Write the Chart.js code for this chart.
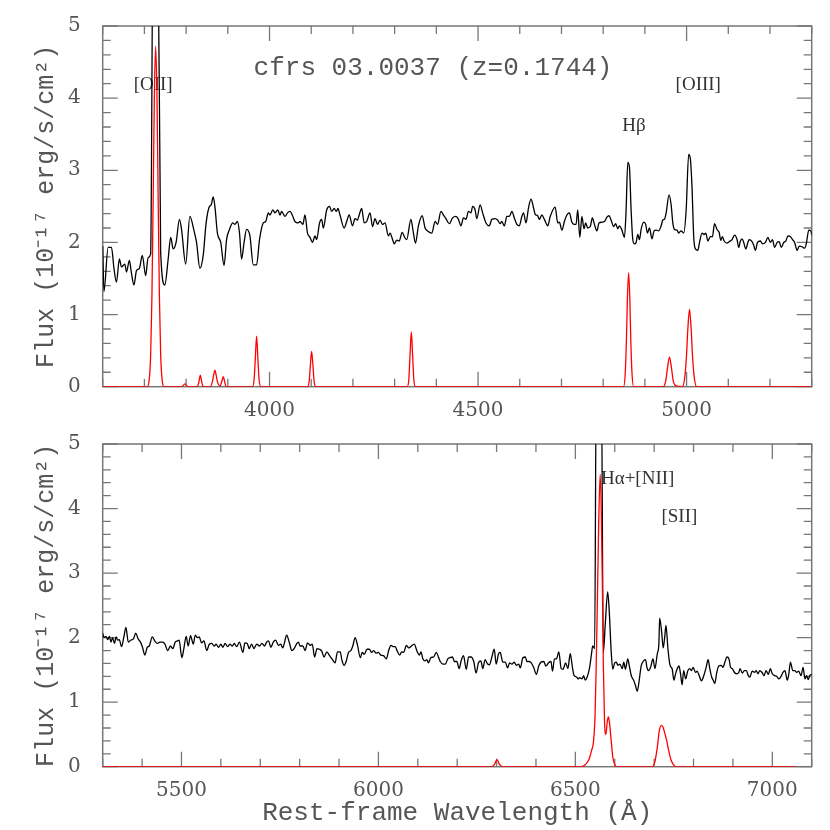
<!DOCTYPE html>
<html>
<head>
<meta charset="utf-8">
<script src="https://cdn.jsdelivr.net/npm/chart.js@4.4.1/dist/chart.umd.min.js"></script>
<style>
    body { margin: 0; background: #fff; }
    #top, #bottom { position: absolute; left: 0; }
    #top { top: 0; }
    #bottom { top: 418px; }
</style>
</head>
<body>
<canvas id="top" width="830" height="426"></canvas>
<canvas id="bottom" width="830" height="412"></canvas>
<script>
"use strict";

// observed spectrum, blue part [wavelength A, flux]
const topSpectrum = [
    [3600,1.95],[3603,1.32],[3613,1.93],[3621,1.93],[3627,1.64],[3633,1.45],[3640,1.77],[3645,1.66],
    [3653,1.70],[3657,1.59],[3664,1.75],[3669,1.57],[3675,1.41],[3681,1.61],[3688,1.64],[3695,1.82],
    [3703,1.54],[3709,1.79],[3715,1.84],[3721,6.5],[3732,6.5],[3739,1.86],[3749,1.41],[3757,1.77],
    [3763,2.07],[3769,1.91],[3776,2.00],[3784,2.32],[3789,2.18],[3799,1.70],[3809,2.36],[3819,2.16],
    [3825,2.00],[3833,1.64],[3841,1.82],[3848,2.27],[3856,2.50],[3860,2.52],[3865,2.63],[3869,2.50],
    [3875,2.13],[3883,2.00],[3891,1.68],[3897,2.04],[3904,2.18],[3912,2.27],[3917,2.25],[3923,2.29],
    [3928,2.13],[3933,1.77],[3939,2.00],[3945,2.18],[3953,2.09],[3961,1.69],[3969,1.69],[3976,2.04],
    [3985,2.27],[3991,2.29],[3997,2.41],[4001,2.38],[4008,2.45],[4013,2.41],[4020,2.45],[4025,2.38],
    [4029,2.43],[4037,2.36],[4043,2.41],[4049,2.43],[4056,2.36],[4061,2.29],[4069,2.27],[4073,2.29],
    [4080,2.25],[4085,2.38],[4091,2.13],[4097,2.07],[4103,2.00],[4109,2.09],[4113,2.04],[4120,2.27],
    [4125,2.32],[4129,2.20],[4137,2.45],[4144,2.50],[4149,2.43],[4155,2.47],[4160,2.43],[4164,2.47],
    [4169,2.38],[4179,2.20],[4185,2.29],[4191,2.38],[4199,2.23],[4205,2.33],[4211,2.31],[4215,2.38],
    [4221,2.47],[4227,2.27],[4233,2.29],[4241,2.41],[4247,2.22],[4253,2.33],[4259,2.25],[4265,2.31],
    [4271,2.25],[4277,2.27],[4285,2.09],[4289,2.13],[4295,2.04],[4299,1.98],[4305,2.03],[4311,2.02],
    [4318,2.14],[4324,2.07],[4329,2.04],[4339,2.32],[4345,2.13],[4350,1.99],[4357,2.23],[4366,2.37],
    [4373,2.20],[4379,2.16],[4389,2.13],[4397,2.29],[4403,2.25],[4411,2.43],[4417,2.38],[4423,2.33],
    [4431,2.26],[4439,2.34],[4447,2.36],[4453,2.32],[4459,2.23],[4465,2.34],[4471,2.32],[4477,2.43],
    [4483,2.41],[4487,2.50],[4493,2.45],[4497,2.33],[4505,2.52],[4511,2.41],[4519,2.27],[4527,2.23],
    [4533,2.32],[4541,2.33],[4547,2.31],[4553,2.26],[4557,2.29],[4563,2.23],[4569,2.36],[4575,2.36],
    [4581,2.43],[4587,2.34],[4593,2.25],[4599,2.23],[4605,2.36],[4609,2.41],[4615,2.27],[4621,2.48],
    [4627,2.60],[4633,2.48],[4637,2.39],[4643,2.37],[4647,2.32],[4653,2.38],[4659,2.32],[4667,2.23],
    [4673,2.36],[4685,2.49],[4691,2.27],[4695,2.28],[4701,2.17],[4707,2.29],[4713,2.38],[4719,2.41],
    [4725,2.28],[4731,2.25],[4735,2.25],[4739,2.45],[4744,2.07],[4749,2.36],[4754,2.19],[4758,2.27],
    [4763,2.20],[4769,2.22],[4774,2.34],[4779,2.25],[4785,2.16],[4790,2.27],[4797,2.28],[4803,2.29],
    [4809,2.35],[4814,2.37],[4819,2.31],[4825,2.22],[4830,2.26],[4835,2.19],[4839,2.23],[4845,2.17],
    [4851,2.07],[4855,2.45],[4859,3.11],[4863,3.04],[4867,2.45],[4871,2.04],[4875,1.98],[4879,2.00],
    [4883,2.11],[4887,2.04],[4891,2.18],[4897,2.28],[4902,2.25],[4906,2.13],[4911,2.20],[4917,2.05],
    [4922,2.16],[4927,2.17],[4933,2.16],[4939,2.23],[4943,2.31],[4947,2.32],[4951,2.41],[4958,2.66],
    [4963,2.52],[4967,2.27],[4971,2.18],[4977,2.17],[4981,2.13],[4987,2.16],[4993,2.13],[4999,2.45],
    [5005,3.22],[5009,3.16],[5013,2.77],[5017,2.09],[5021,1.91],[5027,1.89],[5031,2.00],[5037,2.13],
    [5042,2.11],[5046,2.13],[5051,2.02],[5057,2.08],[5062,2.08],[5067,2.26],[5073,2.18],[5078,2.14],
    [5082,2.03],[5086,2.08],[5090,2.02],[5097,1.99],[5102,2.01],[5109,2.04],[5115,2.10],[5121,2.04],
    [5125,1.93],[5129,2.02],[5133,2.05],[5137,2.00],[5142,1.91],[5147,2.00],[5150,2.04],[5157,2.01],
    [5161,1.96],[5165,1.89],[5170,2.00],[5177,2.02],[5182,1.98],[5189,2.00],[5195,2.07],[5201,2.00],
    [5206,2.04],[5211,1.93],[5217,2.00],[5222,2.01],[5227,1.93],[5233,2.00],[5238,2.02],[5243,2.09],
    [5249,2.08],[5254,2.04],[5259,2.00],[5265,1.89],[5270,1.95],[5277,1.94],[5283,1.92],[5287,1.98],
    [5293,2.17],[5298,2.16],[5300,2.10]
];

// fitted emission lines, blue part
const topModel = [
    [3600,0],[3707,0],[3711,0.07],[3715,0.44],[3718,1.24],[3721,2.6],[3724,4.07],[3727,4.72],
    [3730,4.07],[3733,2.6],[3736,1.24],[3739,0.44],[3743,0.07],[3747,0],
    [3790,0],[3797,0.04],[3804,0],
    [3826,0],[3830,0.05],[3832,0.11],[3834,0.16],[3836,0.11],[3838,0.05],[3842,0],
    [3858,0],[3863,0.07],[3866,0.16],[3869,0.23],[3872,0.16],[3875,0.07],[3881,0.01],
    [3886,0.08],[3889,0.14],[3892,0.08],[3896,0],
    [3959,0],[3963,0.1],[3966,0.4],[3969,0.70],[3972,0.4],[3975,0.1],[3979,0],
    [4091,0],[4095,0.07],[4098,0.3],[4101,0.49],[4104,0.3],[4107,0.07],[4111,0],
    [4330,0],[4334,0.1],[4337,0.45],[4340,0.76],[4343,0.45],[4346,0.1],[4350,0],
    [4849,0],[4853,0.2],[4856,0.7],[4858,1.2],[4861,1.58],[4864,1.2],[4866,0.7],[4869,0.2],[4873,0],
    [4944,0],[4950,0.08],[4954,0.25],[4959,0.41],[4964,0.25],[4968,0.08],[4975,0.01],
    [4990,0],[4996,0.15],[5000,0.45],[5003,0.8],[5007,1.07],[5011,0.8],[5014,0.45],[5018,0.15],[5024,0],
    [5300,0]
];

// observed spectrum, red part
const bottomSpectrum = [
    [5300,2.07],[5303,2.00],[5308,2.02],[5313,1.97],[5317,2.02],[5321,1.93],[5325,2.00],[5330,1.91],
    [5334,2.01],[5338,1.96],[5342,1.97],[5348,1.86],[5354,2.02],[5359,2.16],[5365,1.93],[5371,1.96],
    [5378,1.98],[5384,2.07],[5390,1.98],[5396,1.93],[5401,1.85],[5407,1.73],[5413,1.85],[5418,1.87],
    [5426,2.01],[5432,1.95],[5439,1.91],[5445,1.93],[5452,1.93],[5458,1.90],[5465,1.80],[5472,1.87],
    [5478,1.83],[5484,1.93],[5490,1.95],[5494,1.96],[5501,1.69],[5506,1.83],[5512,2.02],[5517,1.87],
    [5523,2.03],[5530,1.90],[5535,2.04],[5540,2.00],[5545,2.01],[5551,1.92],[5557,1.95],[5564,1.80],
    [5571,1.90],[5577,1.91],[5583,1.87],[5588,1.90],[5594,1.85],[5600,1.90],[5605,1.85],[5611,1.91],
    [5617,1.86],[5623,1.90],[5629,1.87],[5634,1.91],[5640,1.86],[5647,1.93],[5656,1.77],[5661,1.92],
    [5667,1.91],[5672,1.83],[5678,1.90],[5684,1.83],[5691,1.90],[5698,1.87],[5704,1.91],[5711,1.87],
    [5716,1.93],[5721,1.95],[5727,1.85],[5733,1.93],[5739,1.96],[5746,1.88],[5752,1.90],[5757,1.84],
    [5761,1.91],[5767,2.04],[5774,1.92],[5780,1.80],[5786,1.83],[5793,1.91],[5797,1.93],[5801,1.87],
    [5808,1.87],[5814,1.80],[5820,1.92],[5827,1.88],[5832,1.90],[5838,1.70],[5844,1.83],[5850,1.82],
    [5856,1.79],[5862,1.70],[5869,1.78],[5876,1.72],[5882,1.67],[5890,1.61],[5896,1.78],[5903,1.78],
    [5907,1.66],[5913,1.57],[5918,1.63],[5924,1.77],[5930,1.80],[5935,1.87],[5941,2.00],[5947,1.88],
    [5954,1.69],[5959,1.77],[5964,1.74],[5971,1.82],[5977,1.82],[5983,1.77],[5988,1.80],[5994,1.76],
    [6000,1.77],[6006,1.73],[6013,1.72],[6020,1.67],[6026,1.80],[6032,1.88],[6037,1.86],[6043,1.86],
    [6047,1.80],[6054,1.73],[6059,1.78],[6064,1.77],[6071,1.88],[6077,1.84],[6082,1.86],[6091,1.90],
    [6098,1.79],[6104,1.73],[6108,1.78],[6113,1.67],[6119,1.64],[6123,1.66],[6127,1.61],[6133,1.69],
    [6140,1.70],[6147,1.77],[6153,1.69],[6157,1.63],[6164,1.59],[6170,1.59],[6176,1.67],[6182,1.69],
    [6188,1.70],[6193,1.63],[6199,1.63],[6205,1.52],[6210,1.64],[6216,1.72],[6223,1.51],[6229,1.70],
    [6235,1.70],[6242,1.63],[6248,1.45],[6254,1.61],[6260,1.64],[6265,1.52],[6271,1.66],[6277,1.59],
    [6282,1.58],[6288,1.70],[6294,1.82],[6299,1.59],[6305,1.75],[6309,1.77],[6316,1.62],[6322,1.62],
    [6328,1.53],[6333,1.61],[6339,1.59],[6345,1.62],[6350,1.57],[6356,1.59],[6360,1.53],[6367,1.69],
    [6373,1.70],[6377,1.63],[6383,1.63],[6388,1.61],[6394,1.54],[6401,1.43],[6407,1.56],[6413,1.62],
    [6420,1.63],[6425,1.56],[6432,1.61],[6438,1.63],[6442,1.48],[6447,1.67],[6452,1.67],[6458,1.78],
    [6464,1.52],[6469,1.51],[6475,1.61],[6481,1.52],[6487,1.75],[6493,1.52],[6497,1.41],[6503,1.39],
    [6507,1.36],[6511,1.38],[6517,1.36],[6521,1.41],[6525,1.34],[6530,1.39],[6536,1.53],[6541,1.75],
    [6544,1.87],[6549,1.83],[6553,6.0],[6566,6.0],[6571,1.77],[6576,2.22],[6582,2.71],[6586,2.41],
    [6591,1.78],[6595,1.51],[6600,1.61],[6604,1.62],[6608,1.57],[6613,1.59],[6619,1.52],[6623,1.62],
    [6627,1.51],[6633,1.67],[6637,1.56],[6642,1.41],[6648,1.34],[6652,1.27],[6657,1.17],[6661,1.29],
    [6667,1.56],[6672,1.63],[6678,1.66],[6682,1.53],[6686,1.49],[6691,1.54],[6697,1.67],[6702,1.52],
    [6708,1.75],[6712,1.90],[6714,2.30],[6719,2.09],[6723,1.84],[6727,2.02],[6730,2.19],[6735,1.83],
    [6740,1.58],[6746,1.51],[6750,1.34],[6754,1.43],[6758,1.51],[6763,1.56],[6767,1.44],[6771,1.27],
    [6775,1.49],[6780,1.36],[6785,1.48],[6790,1.52],[6795,1.49],[6799,1.54],[6805,1.46],[6809,1.48],
    [6815,1.40],[6820,1.33],[6826,1.41],[6832,1.54],[6837,1.66],[6841,1.53],[6846,1.39],[6850,1.34],
    [6854,1.29],[6859,1.46],[6864,1.56],[6870,1.57],[6875,1.54],[6879,1.61],[6885,1.70],[6890,1.67],
    [6894,1.54],[6898,1.52],[6904,1.46],[6909,1.44],[6915,1.46],[6918,1.52],[6924,1.45],[6929,1.49],
    [6934,1.49],[6939,1.41],[6943,1.39],[6949,1.48],[6955,1.46],[6959,1.49],[6964,1.44],[6968,1.49],
    [6974,1.46],[6979,1.41],[6984,1.49],[6990,1.43],[6995,1.52],[7000,1.44],[7006,1.41],[7011,1.40],
    [7017,1.36],[7023,1.41],[7027,1.46],[7032,1.49],[7038,1.34],[7042,1.44],[7046,1.62],[7052,1.49],
    [7057,1.49],[7062,1.46],[7067,1.48],[7073,1.41],[7078,1.54],[7083,1.36],[7087,1.41],[7091,1.35],
    [7095,1.41],[7100,1.43]
];

// fitted emission lines, red part
const bottomModel = [
    [5300,0],[6288,0],[6295,0.04],[6301,0.11],[6307,0.04],[6314,0],
    [6515,0],[6525,0.03],[6535,0.12],[6541,0.25],[6546,0.39],[6550,0.8],[6553,1.6],[6556,2.6],
    [6559,3.7],[6563,4.53],[6566,3.9],[6569,2.6],[6571,1.6],[6574,0.7],[6576,0.5],[6578,0.52],
    [6581,0.7],[6584,0.77],[6587,0.66],[6591,0.4],[6595,0.15],[6600,0.03],[6605,0],
    [6695,0],[6702,0.08],[6708,0.3],[6713,0.55],[6718,0.64],[6722,0.62],[6727,0.52],[6732,0.4],
    [6737,0.25],[6742,0.12],[6748,0.04],[6755,0],[7060,0]
];

const topTicks = [4000, 4500, 5000];
const bottomTicks = [5500, 6000, 6500, 7000];
const fluxTicks = [0, 1, 2, 3, 4, 5];

const topLabels = [
    { text: "cfrs 03.0037 (z=0.1744)", x: 4392, y: 4.42, big: true },
    { text: "[OII]", x: 3721, y: 4.18 },
    { text: "H\u03b2", x: 4874, y: 3.62 },
    { text: "[OIII]", x: 5028, y: 4.18 }
];
const bottomLabels = [
    { text: "H\u03b1+[NII]", x: 6565, y: 4.46, left: true },
    { text: "[SII]", x: 6764, y: 3.87 }
];

const GREY = "#777";

// box, inward ticks on all four sides and the line labels
const frame = {
    id: "frame",
    beforeDatasetsDraw(chart, args, opts) {
        const { ctx, chartArea: a, scales: { x, y } } = chart;
        ctx.save();
        ctx.strokeStyle = GREY;
        ctx.lineWidth = 1.3;
        ctx.beginPath();
        for (let v = Math.ceil(x.min / 100) * 100; v <= x.max; v += 100) {
            const px = x.getPixelForValue(v);
            const len = v % 500 === 0 ? 15 : 8;
            ctx.moveTo(px, a.bottom);
            ctx.lineTo(px, a.bottom - len);
            ctx.moveTo(px, a.top);
            ctx.lineTo(px, a.top + len);
        }
        for (let i = 0; i <= 25; i++) {
            const py = y.getPixelForValue(i / 5);
            const len = i % 5 === 0 ? 15 : 8;
            ctx.moveTo(a.left, py);
            ctx.lineTo(a.left + len, py);
            ctx.moveTo(a.right, py);
            ctx.lineTo(a.right - len, py);
        }
        ctx.stroke();
        ctx.lineWidth = 1.5;
        ctx.strokeRect(a.left, a.top, a.width, a.height);

        ctx.textBaseline = "middle";
        opts.labels.forEach(l => {
            if (l.big) {
                ctx.font = "26px 'Liberation Mono'";
                ctx.fillStyle = "#555";
            } else {
                ctx.font = "19px 'Liberation Serif'";
                ctx.fillStyle = "#333";
            }
            ctx.textAlign = l.left ? "left" : "center";
            ctx.fillText(l.text, x.getPixelForValue(l.x), y.getPixelForValue(l.y));
        });
        ctx.restore();
    }
};

function makePanel(id, spectrum, model, xmin, xmax, xticks, labels, pad, xHeight, tickPad, xTitle) {
    const tickFont = { family: "'DejaVu Serif'", size: 20 };
    new Chart(document.getElementById(id), {
        type: "line",
        data: {
            datasets: [{
                data: model.map(p => ({ x: p[0], y: p[1] })),
                borderColor: "#ff0000",
                borderWidth: 1.3,
                pointRadius: 0,
                cubicInterpolationMode: "monotone"
            }, {
                data: spectrum.map(p => ({ x: p[0], y: p[1] })),
                borderColor: "#000",
                borderWidth: 1.3,
                pointRadius: 0,
                cubicInterpolationMode: "monotone"
            }]
        },
        options: {
            responsive: false,
            animation: false,
            devicePixelRatio: 1,
            layout: { padding: pad },
            plugins: {
                legend: { display: false },
                tooltip: { enabled: false },
                frame: { labels: labels }
            },
            scales: {
                x: {
                    type: "linear",
                    min: xmin,
                    max: xmax,
                    grid: { display: false },
                    border: { display: false },
                    afterBuildTicks: s => { s.ticks = xticks.map(v => ({ value: v })); },
                    afterFit: s => { s.height = xHeight; },
                    ticks: {
                        color: "#555",
                        font: tickFont,
                        padding: tickPad,
                        maxRotation: 0,
                        callback: v => String(v)
                    },
                    title: {
                        display: !!xTitle,
                        text: xTitle || "",
                        color: "#555",
                        font: { family: "'Liberation Mono'", size: 26 },
                        padding: { top: 0, bottom: 1 }
                    }
                },
                y: {
                    min: 0,
                    max: 5,
                    grid: { display: false },
                    border: { display: false },
                    afterBuildTicks: s => { s.ticks = fluxTicks.map(v => ({ value: v })); },
                    afterFit: s => { s.width = 102.7; },
                    ticks: {
                        color: "#555",
                        font: tickFont,
                        padding: 14,
                        callback: v => String(v)
                    },
                    title: {
                        display: true,
                        text: "Flux (10\u207b\u00b9\u2077 erg/s/cm\u00b2)",
                        color: "#555",
                        font: { family: "'Liberation Mono'", size: 25 },
                        padding: { top: 31, bottom: 0 }
                    }
                }
            }
        },
        plugins: [frame]
    });
}

makePanel("top", topSpectrum, topModel, 3600, 5300, topTicks, topLabels,
    { left: 0, right: 18.3, top: 19.5, bottom: 0 }, 39.3, 4, null);
makePanel("bottom", bottomSpectrum, bottomModel, 5300, 7100, bottomTicks, bottomLabels,
    { left: 0, right: 18.3, top: 6.3, bottom: 0 }, 63.3, 4, "Rest-frame Wavelength (\u00c5)");
</script>
</body>
</html>
